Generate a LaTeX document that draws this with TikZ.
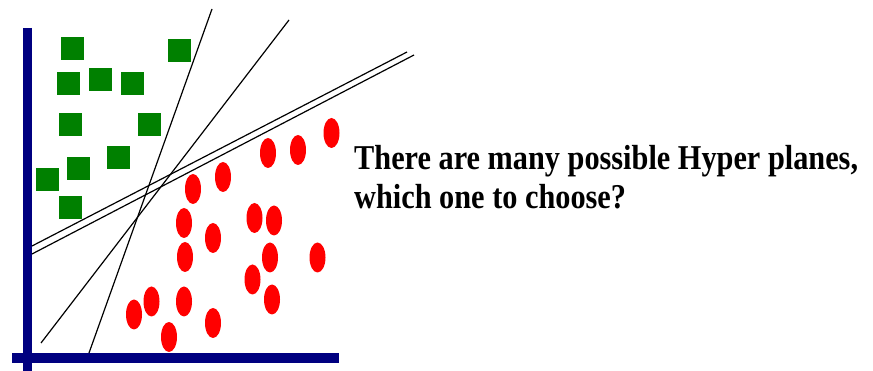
\documentclass[tikz,border=0pt]{standalone}
\usepackage{fontspec}
\setmainfont{Liberation Serif}
\usetikzlibrary{shapes.geometric}
\definecolor{sqgreen}{RGB}{0,128,0}
\definecolor{axisblue}{RGB}{0,0,128}
\definecolor{dotred}{RGB}{255,0,0}
\tikzset{
  sqbox/.style={rectangle,fill=sqgreen,draw=none,minimum size=23pt,inner sep=0pt},
  reddot/.style={ellipse,fill=dotred,draw=none,minimum width=16pt,minimum height=30pt,inner sep=0pt},
  axisbar/.style={draw=axisblue,line width=9pt},
  hyper/.style={draw=black,line width=1.2pt},
  caption/.style={inner sep=0pt,anchor=base west,font=\bfseries\fontsize{30.3}{36}\selectfont}
}
\begin{document}
\begin{tikzpicture}[x=1pt,y=-1pt]
\useasboundingbox (0,0) rectangle (873,371);
% axes
\coordinate (ytop) at (27,28);
\coordinate (ybot) at (27,371);
\coordinate (xleft) at (12,358);
\coordinate (xright) at (339,358);
\draw[axisbar] (ytop) -- (ybot);
\draw[axisbar] (xleft) -- (xright);
% green squares
\node[sqbox] (g1) at (72.5,49) {};
\node[sqbox] (g2) at (179,51) {};
\node[sqbox] (g3) at (68.5,84) {};
\node[sqbox] (g4) at (100,79.5) {};
\node[sqbox] (g5) at (132,84) {};
\node[sqbox] (g6) at (70.5,125) {};
\node[sqbox] (g7) at (149.5,125) {};
\node[sqbox] (g8) at (118,158) {};
\node[sqbox] (g9) at (78.5,169) {};
\node[sqbox] (g10) at (47,180) {};
\node[sqbox] (g11) at (70.5,208) {};
% red ellipses
\node[reddot] (r1) at (331.5,133) {};
\node[reddot] (r2) at (298,150) {};
\node[reddot] (r3) at (268,153) {};
\node[reddot] (r4) at (223,177) {};
\node[reddot] (r5) at (193,189) {};
\node[reddot] (r6) at (184,223) {};
\node[reddot] (r7) at (213,238) {};
\node[reddot] (r8) at (254.5,218) {};
\node[reddot] (r9) at (274,220.5) {};
\node[reddot] (r10) at (185,257) {};
\node[reddot] (r11) at (270,257.5) {};
\node[reddot] (r12) at (317.5,257.5) {};
\node[reddot] (r13) at (252.5,279.5) {};
\node[reddot] (r14) at (272,299.5) {};
\node[reddot] (r15) at (151.5,301.5) {};
\node[reddot] (r16) at (184,301.5) {};
\node[reddot] (r17) at (134,314.5) {};
\node[reddot] (r18) at (213,323) {};
\node[reddot] (r19) at (169,337) {};
% hyperplanes
\coordinate (h1a) at (212,9);
\coordinate (h1b) at (89,353);
\coordinate (h2a) at (289,20);
\coordinate (h2b) at (41,343);
\coordinate (h3a) at (32,246);
\coordinate (h3b) at (407,52);
\coordinate (h4a) at (32,254);
\coordinate (h4b) at (414,55);
\draw[hyper] (h1a) -- (h1b);
\draw[hyper] (h2a) -- (h2b);
\draw[hyper] (h3a) -- (h3b);
\draw[hyper] (h4a) -- (h4b);
% caption
\node[caption] (t1) at (354,170) {\scalebox{1}[1.15]{There are many possible Hyper planes,}};
\node[caption] (t2) at (354,209) {\scalebox{1}[1.15]{which one to choose?}};
\end{tikzpicture}
\end{document}
